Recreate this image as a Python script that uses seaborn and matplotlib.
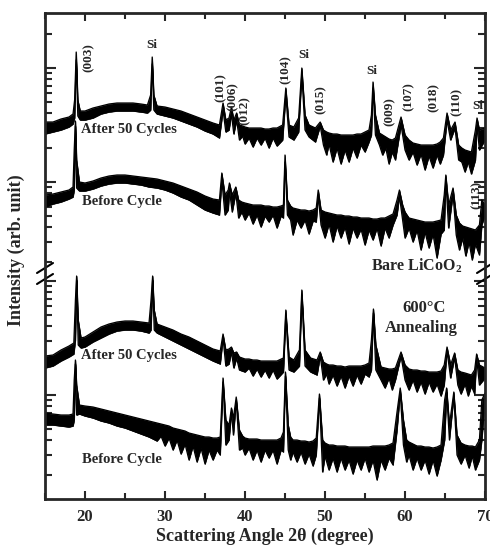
import numpy as np
import pandas as pd
import matplotlib
matplotlib.use("Agg")
import matplotlib.pyplot as plt
import seaborn as sns

sns.set_style("ticks")
plt.rcParams["font.family"] = ["Liberation Serif", "DejaVu Serif"]
plt.rcParams["font.weight"] = "bold"
plt.rcParams["mathtext.fontset"] = "custom"
plt.rcParams["mathtext.rm"] = "Liberation Serif:bold"
plt.rcParams["mathtext.it"] = "Liberation Serif:bold"
plt.rcParams["mathtext.bf"] = "Liberation Serif:bold"

# ---------------------------------------------------------------------------
# XRD patterns (stacked, arb. units). Each row: (2-theta, upper envelope,
# lower envelope) of the noisy measured signal.
# ---------------------------------------------------------------------------

# Bare LiCoO2 - after 50 cycles
bare_after = [
    (15.0, 378, 366), (16.0, 378, 368), (17.0, 381, 370), (18.0, 383, 373), (18.5, 386, 376),
    (18.7, 400, 382), (18.9, 448, 440), (19.1, 400, 384), (19.4, 389, 380), (20.0, 389, 380),
    (21.0, 392, 382), (22.0, 394, 386), (23.0, 396, 388), (24.0, 397, 389), (25.0, 397, 389),
    (26.0, 397, 389), (27.0, 396, 388), (27.8, 395, 387), (28.2, 405, 390), (28.4, 443, 436),
    (28.6, 405, 390), (29.0, 394, 386), (30.0, 393, 384), (31.0, 391, 382), (32.0, 389, 379),
    (33.0, 386, 376), (34.0, 383, 373), (35.0, 380, 369), (36.0, 377, 366), (36.8, 375, 362),
    (37.25, 397, 390), (37.6, 380, 368), (38.0, 382, 370), (38.3, 393, 386), (38.6, 380, 366),
    (38.95, 387, 380), (39.3, 375, 360), (39.7, 374, 364), (40.0, 373, 356), (40.5, 372, 362),
    (41.0, 372, 353), (41.5, 372, 362), (42.0, 372, 355), (42.5, 371, 362), (43.0, 371, 352),
    (43.5, 372, 362), (44.0, 372, 354), (44.7, 375, 360), (45.1, 412, 405), (45.5, 375, 363),
    (46.1, 373, 360), (46.7, 382, 368), (47.1, 432, 426), (47.5, 385, 370), (48.0, 375, 363),
    (48.8, 372, 358), (49.4, 378, 374), (49.8, 370, 355), (50.2, 368, 345), (50.5, 367, 356),
    (51.0, 366, 338), (51.5, 366, 352), (52.0, 365, 336), (52.5, 365, 350), (53.0, 365, 338),
    (53.5, 365, 352), (54.0, 366, 342), (54.5, 366, 355), (55.0, 368, 348), (55.5, 370, 358),
    (55.8, 385, 365), (56.0, 418, 412), (56.3, 385, 365), (56.8, 367, 355), (57.2, 365, 345),
    (57.6, 363, 352), (58.0, 361, 336), (58.4, 360, 348), (58.8, 362, 340), (59.5, 383, 375),
    (60.0, 365, 350), (60.5, 360, 340), (61.0, 357, 348), (61.5, 356, 335), (62.0, 355, 346),
    (62.5, 355, 330), (63.0, 355, 344), (63.5, 355, 332), (64.0, 356, 345), (64.4, 358, 336),
    (64.8, 362, 345), (65.25, 387, 380), (65.7, 370, 360), (66.25, 378, 372), (66.7, 355, 340),
    (67.1, 352, 338), (67.5, 350, 328), (67.9, 349, 338), (68.3, 348, 326), (68.8, 370, 340),
    (69.0, 382, 375), (69.3, 370, 350), (70.0, 372, 360),
]

# Bare LiCoO2 - before cycling
bare_before = [
    (15.0, 305, 293), (16.0, 306, 296), (17.0, 308, 298), (18.0, 310, 301), (18.5, 313, 303),
    (18.65, 350, 310), (18.8, 379, 374), (18.95, 340, 312), (19.3, 318, 309), (20.0, 317, 309),
    (21.0, 319, 311), (22.0, 322, 314), (23.0, 324, 316), (24.0, 325, 317), (25.0, 325, 317),
    (26.0, 324, 316), (27.0, 323, 315), (28.0, 322, 313), (29.0, 321, 312), (30.0, 319, 310),
    (31.0, 317, 307), (32.0, 314, 303), (33.0, 311, 300), (34.0, 308, 295), (35.0, 304, 290),
    (36.0, 301, 287), (36.8, 300, 285), (37.1, 327, 320), (37.5, 305, 285), (37.9, 310, 290),
    (38.05, 317, 310), (38.4, 305, 288), (38.85, 313, 307), (39.2, 300, 282), (39.6, 298, 288),
    (40.0, 297, 280), (40.5, 296, 287), (41.0, 295, 276), (41.5, 295, 285), (42.0, 295, 273),
    (42.5, 294, 284), (43.0, 294, 278), (43.5, 293, 285), (44.0, 293, 272), (44.5, 294, 284),
    (44.8, 295, 282), (45.0, 345, 338), (45.3, 300, 285), (45.7, 294, 280), (46.0, 292, 265),
    (46.5, 291, 280), (47.0, 290, 272), (47.5, 290, 280), (48.0, 289, 266), (48.5, 290, 279),
    (48.9, 292, 278), (49.15, 310, 304), (49.5, 290, 275), (50.0, 288, 262), (50.5, 287, 276),
    (51.0, 286, 258), (51.5, 285, 274), (52.0, 285, 262), (52.5, 284, 273), (53.0, 284, 256),
    (53.5, 283, 272), (54.0, 283, 262), (54.5, 282, 271), (55.0, 282, 255), (55.5, 282, 270),
    (56.0, 281, 260), (56.5, 281, 272), (57.0, 282, 254), (57.5, 282, 272), (58.0, 284, 262),
    (58.5, 286, 275), (59.0, 300, 285), (59.3, 310, 304), (59.7, 295, 280), (60.0, 288, 262),
    (60.5, 282, 272), (61.0, 281, 258), (61.5, 280, 270), (62.0, 279, 250), (62.5, 278, 268),
    (63.0, 278, 252), (63.5, 278, 266), (64.0, 279, 242), (64.5, 280, 266), (64.9, 305, 270),
    (65.1, 325, 320), (65.45, 295, 272), (66.0, 312, 306), (66.4, 285, 265), (66.8, 277, 250),
    (67.2, 274, 262), (67.6, 273, 244), (68.0, 272, 258), (68.4, 271, 240), (68.8, 270, 256),
    (69.3, 275, 245), (69.6, 300, 275), (70.0, 295, 285),
]

# 600 C annealed - after 50 cycles
ann_after = [
    (15.0, 144, 132), (16.0, 145, 134), (17.0, 150, 139), (18.0, 154, 143), (18.6, 157, 146),
    (18.8, 200, 160), (18.95, 224, 220), (19.15, 180, 155), (19.5, 162, 152), (20.0, 163, 153),
    (21.0, 168, 158), (22.0, 173, 162), (23.0, 176, 166), (24.0, 178, 169), (25.0, 179, 170),
    (26.0, 179, 170), (27.0, 178, 169), (28.0, 177, 167), (28.25, 200, 170), (28.45, 224, 220),
    (28.65, 190, 170), (29.0, 176, 167), (30.0, 173, 163), (31.0, 170, 159), (32.0, 166, 155),
    (33.0, 163, 151), (34.0, 159, 147), (35.0, 155, 143), (36.0, 151, 139), (36.9, 149, 136),
    (37.25, 166, 162), (37.6, 150, 134), (38.0, 151, 136), (38.3, 153, 148), (38.6, 147, 132),
    (38.95, 148, 142), (39.3, 143, 130), (40.0, 141, 128), (40.5, 141, 132), (41.0, 140, 124),
    (41.5, 140, 131), (42.0, 139, 123), (42.5, 139, 130), (43.0, 139, 122), (43.5, 139, 130),
    (44.0, 139, 121), (44.8, 142, 128), (45.1, 190, 185), (45.5, 143, 130), (46.1, 140, 128),
    (46.8, 150, 134), (47.1, 210, 205), (47.5, 150, 134), (48.2, 142, 128), (49.0, 140, 125),
    (49.4, 148, 144), (49.8, 138, 120), (50.2, 136, 126), (50.5, 135, 116), (51.0, 135, 125),
    (51.5, 134, 114), (52.0, 134, 124), (52.5, 133, 112), (53.0, 134, 124), (53.5, 134, 114),
    (54.0, 134, 125), (54.5, 134, 116), (55.0, 135, 126), (55.5, 137, 123), (55.8, 160, 130),
    (56.05, 191, 187), (56.35, 155, 130), (57.0, 133, 120), (57.5, 132, 112), (58.0, 131, 122),
    (58.4, 131, 110), (58.8, 132, 120), (59.5, 148, 144), (60.0, 135, 120), (60.5, 131, 110),
    (61.0, 130, 120), (61.5, 130, 108), (62.0, 129, 118), (62.5, 129, 106), (63.0, 128, 118),
    (63.5, 128, 108), (64.0, 128, 116), (64.5, 129, 104), (64.9, 135, 115), (65.25, 153, 149),
    (65.7, 135, 122), (66.2, 147, 143), (66.6, 130, 115), (67.0, 128, 106), (67.5, 127, 116),
    (67.9, 126, 104), (68.3, 125, 114), (68.7, 130, 106), (68.95, 146, 142), (69.3, 135, 115),
    (70.0, 132, 122),
]

# 600 C annealed - before cycling
ann_before = [
    (15.0, 87, 75), (16.0, 86, 75), (17.0, 85, 74), (18.0, 85, 73), (18.5, 86, 74),
    (18.65, 120, 80), (18.8, 140, 136), (18.95, 115, 85), (19.3, 95, 86), (20.0, 94, 84),
    (21.0, 93, 82), (22.0, 91, 79), (23.0, 89, 77), (24.0, 87, 74), (25.0, 85, 72),
    (26.0, 83, 69), (27.0, 81, 66), (28.0, 79, 63), (29.0, 77, 59), (29.5, 76, 64),
    (30.0, 75, 54), (30.5, 74, 62), (31.0, 72, 50), (31.5, 71, 60), (32.0, 70, 46),
    (32.5, 69, 56), (33.0, 67, 40), (33.5, 66, 54), (34.0, 65, 38), (34.5, 64, 52),
    (35.0, 63, 36), (35.5, 63, 50), (36.0, 62, 40), (36.5, 62, 50), (36.9, 63, 45),
    (37.25, 122, 118), (37.6, 80, 55), (38.0, 75, 60), (38.3, 92, 88), (38.55, 82, 65),
    (38.9, 103, 99), (39.3, 70, 50), (39.7, 64, 52), (40.0, 62, 45), (40.5, 61, 52),
    (41.0, 61, 40), (41.5, 61, 50), (42.0, 60, 38), (42.5, 60, 50), (43.0, 60, 42),
    (43.5, 60, 50), (44.0, 60, 36), (44.5, 62, 50), (44.8, 68, 48), (45.05, 128, 124),
    (45.4, 75, 50), (45.7, 63, 40), (46.0, 60, 48), (46.5, 60, 38), (47.0, 59, 48),
    (47.5, 59, 36), (48.0, 58, 46), (48.5, 59, 34), (48.9, 62, 45), (49.3, 106, 102),
    (49.7, 60, 28), (50.0, 57, 44), (50.5, 55, 30), (51.0, 55, 42), (51.5, 54, 28),
    (52.0, 54, 42), (52.5, 54, 30), (53.0, 53, 40), (53.5, 53, 26), (54.0, 53, 40),
    (54.5, 53, 30), (55.0, 53, 42), (55.5, 53, 28), (56.0, 54, 40), (56.5, 54, 20),
    (57.0, 54, 40), (57.5, 54, 30), (58.0, 55, 42), (58.5, 57, 35), (59.0, 88, 70),
    (59.4, 112, 108), (59.8, 80, 55), (60.2, 60, 38), (60.5, 58, 45), (61.0, 56, 30),
    (61.5, 54, 42), (62.0, 54, 30), (62.5, 53, 40), (63.0, 53, 26), (63.5, 52, 40),
    (64.0, 53, 24), (64.5, 55, 40), (64.95, 100, 60), (65.2, 112, 108), (65.55, 75, 60),
    (66.1, 108, 104), (66.5, 65, 45), (67.0, 57, 36), (67.5, 55, 45), (68.0, 54, 32),
    (68.4, 54, 44), (68.8, 53, 30), (69.3, 60, 40), (69.6, 100, 60), (70.0, 107, 100),
]

x_ticks = [20, 30, 40, 50, 60, 70]

# Peak labels: (2-theta, height, text, rotation)
peak_labels = [
    (20.5, 442, "(003)", 90), (28.4, 455, "Si", 0),
    (36.9, 412, "(101)", 90), (38.4, 403, "(006)", 90), (39.9, 389, "(012)", 90),
    (45.1, 430, "(104)", 90), (47.3, 445, "Si", 0), (49.4, 400, "(015)", 90),
    (55.9, 429, "Si", 0), (58.1, 388, "(009)", 90), (60.5, 403, "(107)", 90),
    (63.6, 403, "(018)", 90), (66.5, 398, "(110)", 90), (69.1, 394, "Si", 0),
    (69.0, 305, "(113)", 90),
]

# Curve captions: (2-theta, height, text)
curve_labels = [
    (25.5, 370, "After 50 Cycles"), (24.6, 298, "Before Cycle"),
    (25.5, 145, "After 50 Cycles"), (24.6, 40, "Before Cycle"),
]

traces = [bare_after, bare_before, ann_after, ann_before]

fig = plt.figure(figsize=(4.9, 5.5), dpi=100)
ax = fig.add_axes([45 / 490, 1 - 499 / 550, 440 / 490, 486 / 550])

for rows in traces:
    df = pd.DataFrame(rows, columns=["two_theta", "hi", "lo"])
    ax.fill_between(df["two_theta"], df["lo"], df["hi"], color="black", lw=0.4)
    sns.lineplot(data=df, x="two_theta", y="hi", color="black", lw=0.9, ax=ax,
                 sort=False, estimator=None)
    sns.lineplot(data=df, x="two_theta", y="lo", color="black", lw=0.9, ax=ax,
                 sort=False, estimator=None)

ax.set_xlim(15, 70)
ax.set_ylim(1, 487)

# x ticks on bottom and top, pointing inward
ax.set_xticks(x_ticks)
ax.set_xticks(np.arange(15, 71, 5), minor=True)
ax.tick_params(axis="x", which="both", direction="in", top=True, bottom=True, width=1.5)
ax.tick_params(axis="x", which="major", length=6, labelsize=12, pad=7)
ax.tick_params(axis="x", which="minor", length=4)
for lab in ax.get_xticklabels():
    lab.set_fontweight("bold")

# logarithmic-style tick pattern for each half of the broken intensity axis
decade = 114
def log_ticks(majors, vmin, vmax):
    maj, mnr = [], []
    for m in majors:
        if vmin <= m <= vmax:
            maj.append(m)
        for k in range(2, 10):
            v = m + decade * np.log10(k)
            if vmin <= v <= vmax:
                mnr.append(v)
    return maj, mnr

up_maj, up_min = log_ticks([204, 318, 432], 232, 486)
lo_maj, lo_min = log_ticks([-9, 105, 219], 3, 219)
ax.set_yticks(up_maj + lo_maj)
ax.set_yticks(up_min + lo_min, minor=True)
ax.tick_params(axis="y", which="both", direction="in", left=True, right=True,
               labelleft=False, width=1.5)
ax.tick_params(axis="y", which="major", length=8)
ax.tick_params(axis="y", which="minor", length=5)

for side in ["left", "right", "top", "bottom"]:
    ax.spines[side].set_linewidth(2.0)

ax.set_xlabel("Scattering Angle 2\u03b8 (degree)", fontsize=13, fontweight="bold")
ax.xaxis.set_label_coords(0.5, -0.06)
ax.set_ylabel("Intensity (arb. unit)", fontsize=13, fontweight="bold")
ax.yaxis.set_label_coords(-0.045, 0.512)

for x, y, s, rot in peak_labels:
    ax.text(x, y, s, rotation=rot, ha="center", va="center", fontsize=9.5,
            fontweight="bold", clip_on=False)

for x, y, s in curve_labels:
    ax.text(x, y, s, ha="center", va="center", fontsize=10.5, fontweight="bold")

ax.text(61.4, 234, r"Bare LiCoO$_\mathregular{2}$", ha="center", va="center",
        fontsize=11.5, fontweight="bold")
ax.text(62.4, 192, "600\u00b0C", ha="center", va="center", fontsize=12, fontweight="bold")
ax.text(62.0, 172, "Annealing", ha="center", va="center", fontsize=12, fontweight="bold")

# axis-break marks on both vertical spines
px_w = 1.0 / 440
px_h = 1.0 / 486
for xc in (0.0, 1.0):
    for yc in (225 * px_h + 6 * px_h, 225 * px_h - 5 * px_h):
        ax.plot([xc - 8 * px_w, xc + 8 * px_w], [yc - 5 * px_h, yc + 5 * px_h],
                transform=ax.transAxes, color="black", lw=1.5, clip_on=False)

fig.savefig("out.png", dpi=100)
